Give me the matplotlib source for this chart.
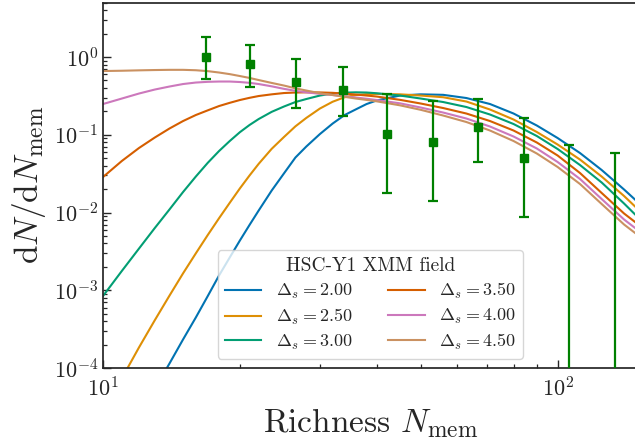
import numpy as np
import matplotlib
matplotlib.use('Agg')
import matplotlib.pyplot as plt

plt.rcParams['font.family'] = 'serif'
plt.rcParams['font.serif'] = ['cmr10']
plt.rcParams['mathtext.fontset'] = 'cm'
plt.rcParams['axes.formatter.use_mathtext'] = True
plt.rcParams['axes.unicode_minus'] = False

# model curves, sampled at these richness values
n_mem = [10, 11, 12, 13, 14, 15, 16, 17, 18, 19, 20, 21, 22, 23.5, 25, 26.5, 28, 30, 32, 34, 36, 38, 40,
         45, 50, 56, 63, 71, 80, 90, 100, 112, 125, 140, 150]
delta_s = [2.00, 2.50, 3.00, 3.50, 4.00, 4.50]
model_200 = [3.0e-6, 9.0e-6, 2.3e-5, 5.4e-5, 1.14e-4, 2.33e-4, 4.46e-4, 8.43e-4, 1.55e-3, 2.64e-3, 4.36e-3, 6.91e-3,
             0.01061, 0.01919, 0.0318, 0.0510, 0.0706, 0.1022, 0.1395, 0.1795, 0.2125, 0.2486, 0.2765,
             0.3197, 0.3313, 0.3265, 0.2970, 0.2486, 0.1876, 0.1315, 0.0908, 0.0582, 0.0352, 0.01976, 0.01365]
model_250 = [2.61e-5, 7.35e-5, 1.84e-4, 4.12e-4, 8.51e-4, 1.65e-3, 2.98e-3, 5.14e-3, 8.45e-3, 0.01333, 0.0204, 0.0299,
             0.0423, 0.0660, 0.0935, 0.1284, 0.1647, 0.2176, 0.2661, 0.3041, 0.3246, 0.3333, 0.3353,
             0.3313, 0.3197, 0.3041, 0.2677, 0.2113, 0.1571, 0.1085, 0.0749, 0.0480, 0.0290, 0.0163, 0.0111]
model_300 = [8.43e-4, 1.77e-3, 3.44e-3, 6.32e-3, 0.01093, 0.01835, 0.0290, 0.0436, 0.0618, 0.0831, 0.1079, 0.1335,
             0.1594, 0.1973, 0.2308, 0.2638, 0.2883, 0.3197, 0.3393, 0.3484, 0.3516, 0.3495, 0.3423,
             0.3197, 0.2925, 0.2638, 0.2275, 0.1822, 0.1375, 0.0964, 0.0656, 0.0408, 0.0243, 0.01305, 0.00875]
model_350 = [0.0286, 0.0460, 0.0676, 0.0922, 0.1203, 0.1502, 0.1795, 0.2062, 0.2343, 0.2576, 0.2799, 0.2987,
             0.3151, 0.3313, 0.3443, 0.3495, 0.3516, 0.3505, 0.3464, 0.3383, 0.3294, 0.3197, 0.3104,
             0.2815, 0.2523, 0.2208, 0.1876, 0.1502, 0.1134, 0.0795, 0.0541, 0.0322, 0.01782, 0.00971, 0.00711]
model_400 = [0.2486, 0.2925, 0.3393, 0.3819, 0.4174, 0.4495, 0.4699, 0.4798, 0.4841, 0.4841, 0.4770, 0.4658,
             0.4495, 0.4199, 0.3899, 0.3675, 0.3516, 0.3362, 0.3246, 0.3132, 0.3014, 0.2908, 0.2799,
             0.2538, 0.2241, 0.1932, 0.1618, 0.1277, 0.0950, 0.0666, 0.0446, 0.0270, 0.0149, 0.00813, 0.00596]
model_450 = [0.6607, 0.6664, 0.6743, 0.6804, 0.6845, 0.6845, 0.6764, 0.6585, 0.6321, 0.6027, 0.5697, 0.5384,
             0.5059, 0.4644, 0.4299, 0.3957, 0.3708, 0.3423, 0.3246, 0.3076, 0.2925, 0.2807, 0.2693,
             0.2392, 0.2094, 0.1769, 0.1459, 0.1134, 0.0831, 0.0574, 0.0385, 0.02326, 0.01286, 0.00701, 0.00514]

# measured distribution (HSC-Y1 XMM)
obs_n = [16.85, 21.1, 26.6, 33.7, 42.1, 53.1, 66.7, 84.2, 105.7, 133.4]
obs_val = [1.0, 0.81, 0.478, 0.374, 0.102, 0.081, 0.126, 0.050, 0.0, 0.0]
obs_low = [0.52, 0.416, 0.22, 0.174, 0.0177, 0.0139, 0.045, 0.0088, 0.0, 0.0]
obs_high = [1.82, 1.44, 0.93, 0.745, 0.333, 0.268, 0.292, 0.165, 0.074, 0.059]

colors = ['#0173b2', '#de8f05', '#029e73', '#d55e00', '#cc78bc', '#ca9161']
models = [model_200, model_250, model_300, model_350, model_400, model_450]

fig = plt.figure(figsize=(6.35, 4.43), dpi=100)
ax = fig.add_axes([103 / 635, 1 - 368 / 443, (637.7 - 103) / 635, (368 - 2.7) / 443])

for ds, m, c in zip(delta_s, models, colors):
    ax.plot(n_mem, m, color=c, lw=1.5, label=r'$\Delta_s = %.2f$' % ds)

val = np.array(obs_val)
yerr = [val - np.array(obs_low), np.array(obs_high) - val]
ax.errorbar(obs_n, obs_val, yerr=yerr, fmt='s', color='green', ms=6,
            elinewidth=1.6, capsize=3.3, capthick=1.6, zorder=5)

ax.set_xscale('log')
ax.set_yscale('log')
ax.set_xlim(10, 150)
ax.set_ylim(1e-4, 5)

for sp in ax.spines.values():
    sp.set_color('.15')
    sp.set_linewidth(1.25)
ax.tick_params(which='both', direction='in', colors='.15', labelsize=16, top=False, right=False)
ax.tick_params(which='major', length=5.5, width=1.0)
ax.tick_params(which='minor', length=3.0, width=0.9)
ax.tick_params(axis='x', pad=6)

ax.set_xlabel(r'Richness $N_{\rm mem}$', fontsize=24, color='.15')
ax.set_ylabel(r'$\mathrm{d}N/\mathrm{d}N_{\rm mem}$', fontsize=24, color='.15')

leg = ax.legend(loc='lower center', ncol=2, fontsize=13, title='HSC-Y1 XMM field', title_fontsize=14,
                labelspacing=0.32)
for t in leg.get_texts():
    t.set_color('.15')
leg.get_title().set_color('.15')

fig.savefig('out.png', dpi=100)
